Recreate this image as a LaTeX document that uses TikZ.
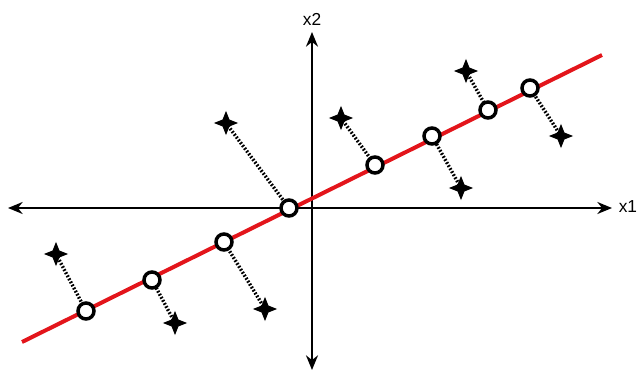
\documentclass[tikz,border=0pt]{standalone}
\usepackage{fontspec}
\setmainfont{Liberation Sans}
\usetikzlibrary{arrows.meta, shapes.geometric}

\begin{document}
\begin{tikzpicture}[x=0.75pt, y=-0.75pt,
    sample/.style={star, star points=4, star point ratio=2.5, fill=black, draw=black, line width=0.8pt, inner sep=0pt, minimum size=16pt},
    proj/.style={circle, draw=black, fill=white, line width=2.6pt, inner sep=0pt, minimum size=12pt},
    dist/.style={line width=2.6pt, dash pattern=on 1.3pt off 1.3pt},
    axis/.style={line width=1.5pt, {Stealth[length=11pt,width=9pt]}-{Stealth[length=11pt,width=9pt]}},
    lbl/.style={font=\fontsize{13}{15}\selectfont}]
    % Define colours
    \definecolor{lineColour}{HTML}{E3151B}

    \useasboundingbox (0,0) rectangle (637,379);

    % Draw axes
    \coordinate (xl) at (8,208);
    \coordinate (xr) at (612,208);
    \coordinate (yb) at (312,370);
    \coordinate (yt) at (312,32);
    \draw[axis] (xl) -- (xr) node[lbl, anchor=west, xshift=1pt, yshift=1pt] (labx) {x1};
    \draw[axis] (yb) -- (yt) node[lbl, anchor=south, yshift=1pt] (laby) {x2};

    % Draw the fitted line
    \coordinate (L1) at (22,342);
    \coordinate (L2) at (602,55);
    \draw[lineColour, line width=3pt] (L1) -- (L2);

    % Samples and their projections onto the line
    \foreach \i/\sx/\sy/\px/\py in {1/56/254/86/311, 2/175/323/152/280, 3/265/309/224/242,
        4/226/123/289/208, 5/341/118/375/165, 6/461/188/432/136, 7/466/71/488/110, 8/561/136/530/88}
    {
        \node[sample] (s\i) at (\sx,\sy) {};
        \coordinate (c\i) at (\px,\py);
        \draw[dist] (s\i.center) -- (c\i);
        \node[proj] (p\i) at (c\i) {};
    }

\end{tikzpicture}
\end{document}
